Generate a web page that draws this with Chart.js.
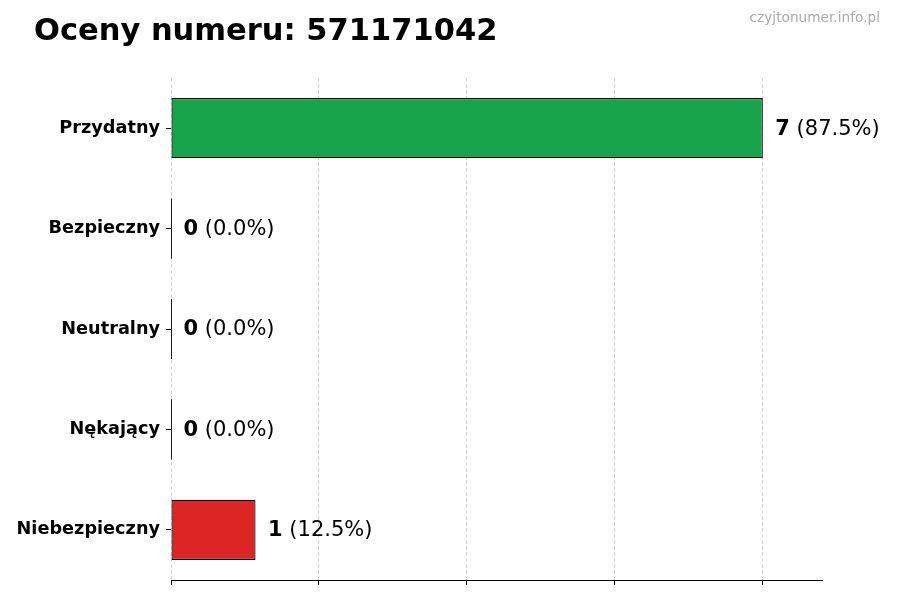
<!DOCTYPE html>
<html lang="pl">
<head>
<meta charset="utf-8">
<title>Oceny numeru: 571171042</title>
<script src="https://cdn.jsdelivr.net/npm/chart.js@4/dist/chart.umd.min.js"></script>
<style>
    html, body { margin: 0; padding: 0; background: #fff; }
    #wrap { position: relative; width: 900px; height: 600px; font-family: "DejaVu Sans", sans-serif; }
    #chart { position: absolute; left: 0; top: 0; }
    .title { position: absolute; left: 34px; top: 15px; font-size: 30.5px; font-weight: bold; line-height: 1; color: #000; }
    .source { position: absolute; right: 20px; top: 11px; font-size: 13.7px; line-height: 1; color: #aaa; }
</style>
</head>
<body>
<div id="wrap">
    <canvas id="chart" width="900" height="600"></canvas>
    <div class="title">Oceny numeru: 571171042</div>
    <div class="source">czyjtonumer.info.pl</div>
</div>
<script>
// chart data
const categories = ['Przydatny', 'Bezpieczny', 'Neutralny', 'Nękający', 'Niebezpieczny'];
const values = [7, 0, 0, 0, 1];
const barColors = ['#16a34a', '#9ca3af', '#eab308', '#f97316', '#dc2626'];
const xTicks = [0, 1.75, 3.5, 5.25, 7];
const xMax = 7.7;

const total = values.reduce((a, b) => a + b, 0);

// draws the "n (pct%)" labels and the outline of empty bars
const valueLabels = {
    id: 'valueLabels',
    afterDatasetsDraw(chart) {
        const ctx = chart.ctx;
        const meta = chart.getDatasetMeta(0);
        ctx.save();
        meta.data.forEach((bar, i) => {
            const v = values[i];
            if (v === 0) {
                ctx.strokeStyle = '#222';
                ctx.lineWidth = 1;
                ctx.beginPath();
                ctx.moveTo(Math.round(bar.x) + 0.5, bar.y - bar.height / 2);
                ctx.lineTo(Math.round(bar.x) + 0.5, bar.y + bar.height / 2);
                ctx.stroke();
            }
            const pct = (v / total * 100).toFixed(1);
            let x = bar.x + 12.5;
            ctx.textBaseline = 'middle';
            ctx.textAlign = 'left';
            ctx.fillStyle = '#000';
            ctx.font = 'bold 21px "DejaVu Sans"';
            ctx.fillText(String(v), x, bar.y + 1);
            x += ctx.measureText(String(v)).width;
            ctx.font = '21px "DejaVu Sans"';
            ctx.fillText(' (' + pct + '%)', x, bar.y + 1);
        });
        ctx.restore();
    }
};

new Chart(document.getElementById('chart'), {
    type: 'bar',
    data: {
        labels: categories,
        datasets: [{
            data: values,
            backgroundColor: barColors,
            borderColor: '#000',
            borderWidth: 1.2,
            borderSkipped: false,
            barPercentage: 0.6,
            categoryPercentage: 1.0
        }]
    },
    options: {
        indexAxis: 'y',
        responsive: false,
        animation: false,
        devicePixelRatio: 1,
        layout: { padding: { top: 78, right: 78, bottom: 0, left: 0 } },
        plugins: {
            legend: { display: false },
            tooltip: { enabled: false }
        },
        scales: {
            x: {
                min: 0,
                max: xMax,
                afterBuildTicks: (scale) => { scale.ticks = xTicks.map(v => ({ value: v })); },
                afterFit: (scale) => { scale.height = 20; },
                ticks: { display: false },
                grid: {
                    color: '#d4d4d4',
                    lineWidth: 1,
                    drawTicks: true,
                    tickLength: 5,
                    tickColor: '#000',
                    tickWidth: 1
                },
                border: { display: true, color: '#000', width: 1, dash: [4, 2] }
            },
            y: {
                afterFit: (scale) => { scale.width = 171; },
                ticks: {
                    color: '#000',
                    padding: 6,
                    font: { family: 'DejaVu Sans', size: 17.7, weight: 'bold' }
                },
                grid: {
                    offset: false,
                    drawOnChartArea: false,
                    drawTicks: true,
                    tickLength: 5,
                    tickColor: '#000',
                    tickWidth: 1
                },
                border: { display: false }
            }
        }
    },
    plugins: [valueLabels]
});
</script>
</body>
</html>
